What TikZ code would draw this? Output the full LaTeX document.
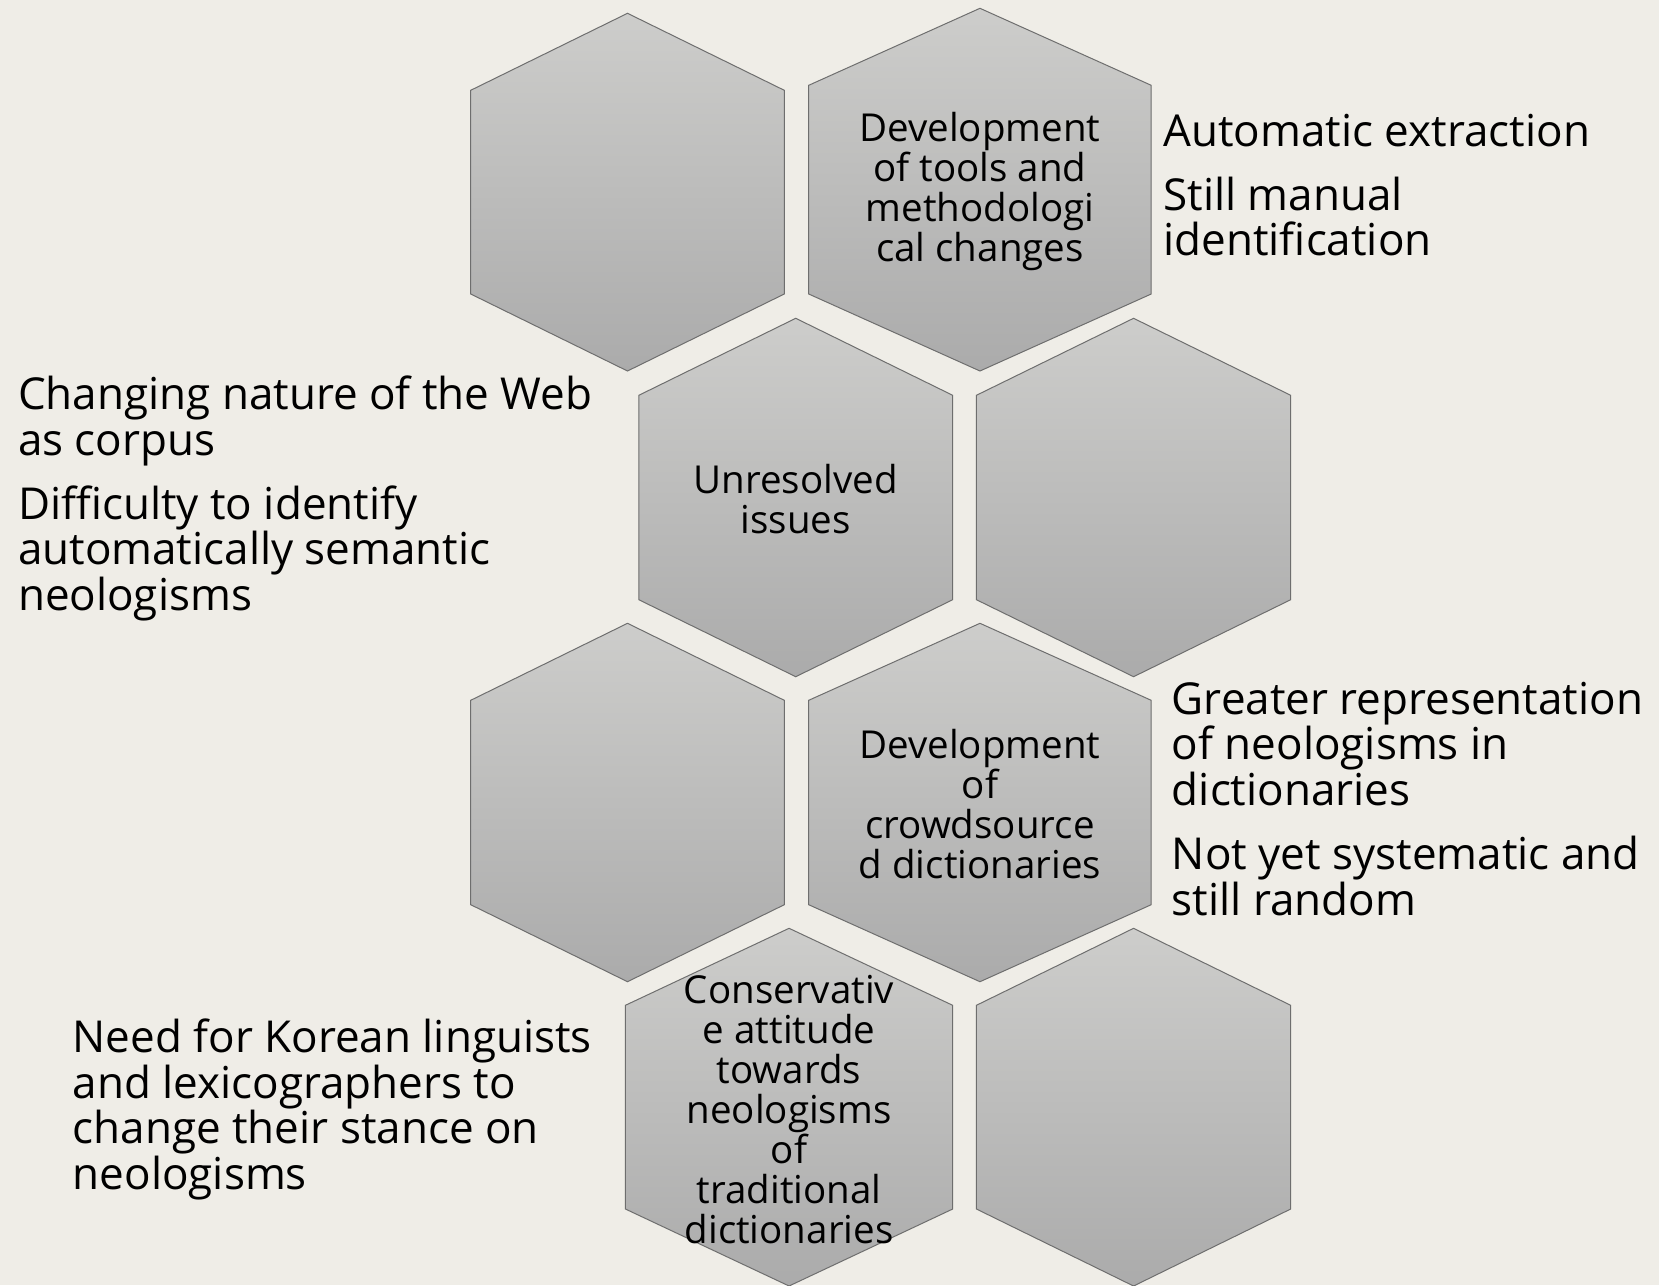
\documentclass[tikz,border=0pt]{standalone}
\usepackage{fontspec}
\setmainfont{Open Sans}
\usepackage{tikz}
\definecolor{bgcol}{HTML}{EFEDE7}
\definecolor{hextop}{HTML}{CDCDCB}
\definecolor{hexbot}{HTML}{ABABAB}
\definecolor{hexline}{HTML}{6E6E6E}

% one hexagon: name, left, right, top, bottom, label
\newcommand{\hexcell}[6]{%
  \path[hexfill] (#2,#4+77) -- ({(#2+#3)/2},#4) -- (#3,#4+77)
    -- (#3,#5-77) -- ({(#2+#3)/2},#5) -- (#2,#5-77) -- cycle;
  \node[hextext] (#1) at ({(#2+#3)/2},{(#4+#5)/2+2}) {#6};
}

\begin{document}
\begin{tikzpicture}[x=1pt,y=-1pt,
  hexfill/.style={draw=hexline,line width=1pt,top color=hextop,bottom color=hexbot},
  hextext/.style={align=center,inner sep=0pt,font=\fontsize{38.5}{40}\selectfont},
  sidetext/.style={anchor=base west,align=left,inner sep=0pt,font=\fontsize{44}{45.5}\selectfont}]
%%
\fill[bgcol] (0,0) rectangle (1659,1285);
\useasboundingbox (0,0) rectangle (1659,1285);
%
\hexcell{hex_a}{470.7}{784.3}{13.3}{371}{}
\hexcell{hex_tools}{808.7}{1151.2}{8.3}{371}{Development\\of tools and\\methodologi\\cal changes}
\hexcell{hex_issues}{638.8}{952.7}{318.3}{676.7}{Unresolved\\issues}
\hexcell{hex_d}{976.4}{1290.7}{318.3}{676.7}{}
\hexcell{hex_e}{470.7}{784.3}{623.3}{981.7}{}
\hexcell{hex_crowd}{808.7}{1151.2}{623.3}{981.7}{Development\\of\\crowdsource\\d dictionaries}
\hexcell{hex_conserv}{625.4}{952.7}{928.3}{1286}{Conservativ\\e attitude\\towards\\neologisms\\of\\traditional\\dictionaries}
\hexcell{hex_h}{976.4}{1290.7}{928.3}{1286}{}
%
% side texts, placed by the baseline of their last line
\node[sidetext] (extract) at (1163.3,146.7) {Automatic extraction};
\node[sidetext] (manual) at (1163.3,255.7) {Still manual\\identification};
\node[sidetext] (webcorpus) at (17.8,455) {Changing nature of the Web\\as corpus};
\node[sidetext] (semantic) at (17.8,610) {Difficulty to identify\\automatically semantic\\neologisms};
\node[sidetext] (greater) at (1171.7,805) {Greater representation\\of neologisms in\\dictionaries};
\node[sidetext] (random) at (1171.7,915) {Not yet systematic and\\still random};
\node[sidetext] (stance) at (72.6,1189) {Need for Korean linguists\\and lexicographers to\\change their stance on\\neologisms};
%
\end{tikzpicture}
\end{document}
